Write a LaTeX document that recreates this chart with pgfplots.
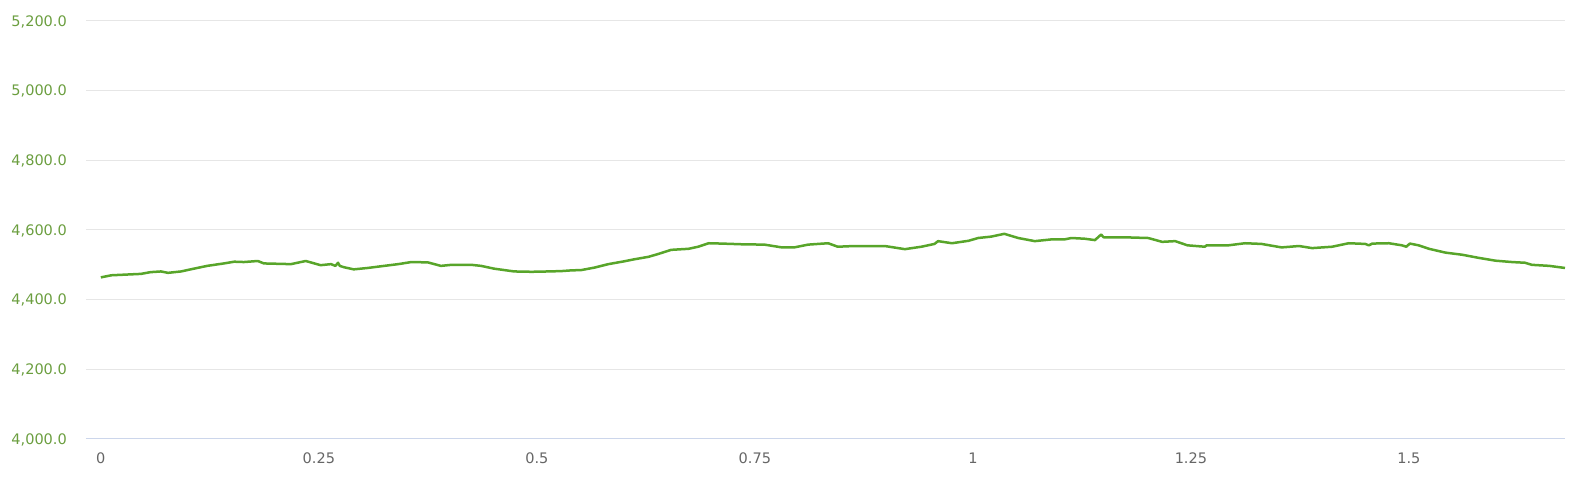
\documentclass[border=0pt]{standalone}
\usepackage{fontspec}
\setmainfont{DejaVu Sans}
\usepackage{pgfplots}
\pgfplotsset{compat=1.18}
\definecolor{linegreen}{HTML}{58A52A}
\definecolor{labgreen}{HTML}{6B9E3F}
\definecolor{gridc}{HTML}{E6E6E6}
\definecolor{axisc}{HTML}{CCD6EB}
\definecolor{labgray}{HTML}{666666}
\begin{document}
\begin{tikzpicture}[x=1pt,y=1pt]
\path[use as bounding box] (0,0) rectangle (1570,487);
\begin{axis}[
  at={(86pt,48pt)}, anchor=south west,
  scale only axis, width=1479pt, height=418pt,
  xmin=-0.017, xmax=1.679, ymin=4000, ymax=5200,
  xtick={0,0.25,0.5,0.75,1,1.25,1.5},
  xticklabels={0,0.25,0.5,0.75,1,1.25,1.5},
  ytick={4000,4200,4400,4600,4800,5000,5200},
  yticklabel={\pgfmathprintnumber[fixed,fixed zerofill,precision=1,1000 sep={,}]{\tick}},
  /pgf/number format/assume math mode=true,
  major tick length=0pt,
  axis line style={draw=none},
  axis x line*=bottom, axis y line*=left,
  ymajorgrids, grid style={gridc, line width=1pt},
  yticklabel style={font=\fontsize{14.5}{16}\selectfont, text=labgreen, anchor=base east, inner sep=0pt, xshift=-19pt, yshift=-5.3pt},
  xticklabel style={font=\fontsize{14.5}{16}\selectfont, text=labgray, anchor=base, inner sep=0pt, yshift=-25pt},
  clip=false,
]
\draw[axisc, line width=1pt] (axis cs:-0.017,4000) -- (axis cs:1.679,4000);
\addplot[linegreen, line width=2.5pt, line join=round] coordinates {
(0,4464) (0.012,4470) (0.046,4474) (0.057,4479) (0.069,4481) (0.077,4477) (0.092,4481) (0.103,4487) (0.122,4497) (0.141,4504) (0.153,4509) (0.164,4508) (0.18,4511) (0.187,4504) (0.218,4502) (0.235,4511) (0.252,4499) (0.264,4502) (0.269,4497) (0.272,4506) (0.274,4497) (0.279,4493) (0.29,4487) (0.306,4491) (0.325,4497) (0.341,4502) (0.356,4508) (0.375,4507) (0.39,4497) (0.402,4500) (0.425,4500) (0.436,4497) (0.451,4489) (0.474,4481) (0.494,4480) (0.513,4481) (0.528,4482) (0.539,4484) (0.551,4485) (0.566,4492) (0.582,4502) (0.6,4510) (0.612,4516) (0.628,4523) (0.639,4531) (0.654,4543) (0.674,4546) (0.685,4552) (0.697,4562) (0.712,4561) (0.735,4559) (0.761,4558) (0.781,4550) (0.795,4550) (0.811,4558) (0.834,4562) (0.845,4552) (0.864,4554) (0.899,4554) (0.922,4545) (0.941,4552) (0.956,4560) (0.96,4568) (0.976,4562) (0.995,4569) (1.006,4577) (1.021,4581) (1.036,4589) (1.052,4577) (1.071,4568) (1.09,4573) (1.105,4573) (1.113,4577) (1.128,4575) (1.14,4571) (1.147,4587) (1.15,4579) (1.174,4579) (1.201,4577) (1.217,4566) (1.232,4568) (1.246,4556) (1.266,4552) (1.268,4556) (1.293,4556) (1.312,4562) (1.331,4560) (1.354,4550) (1.374,4554) (1.389,4548) (1.412,4552) (1.431,4562) (1.45,4560) (1.454,4556) (1.458,4561) (1.477,4562) (1.492,4556) (1.497,4552) (1.501,4561) (1.511,4556) (1.523,4546) (1.542,4535) (1.561,4529) (1.58,4520) (1.599,4512) (1.618,4508) (1.633,4506) (1.641,4500) (1.661,4497) (1.679,4491)
};
\end{axis}
\end{tikzpicture}
\end{document}
